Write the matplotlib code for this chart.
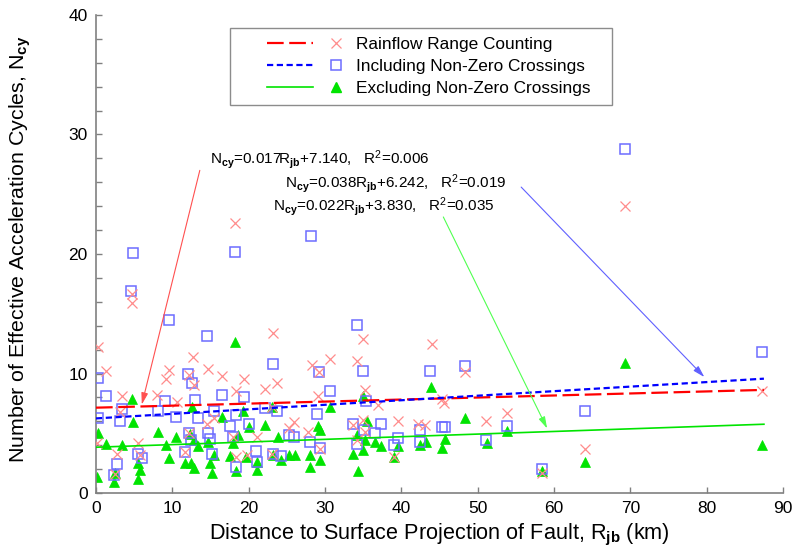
import matplotlib
matplotlib.use('Agg')
import matplotlib.pyplot as plt
from matplotlib.lines import Line2D
from matplotlib.legend_handler import HandlerBase
import numpy as np

plt.rcParams['font.family'] = ['Liberation Sans', 'DejaVu Sans']
plt.rcParams['mathtext.fontset'] = 'custom'
plt.rcParams['mathtext.rm'] = 'Liberation Sans'
plt.rcParams['mathtext.it'] = 'Liberation Sans:italic'
plt.rcParams['mathtext.bf'] = 'Liberation Sans:bold'

# ---------------- data ----------------
rf_x = [0.2, 1.3, 4.7, 4.7, 12.7, 9.6, 9.2, 12.2, 12.8, 3.4, 8.0, 10.6, 3.1, 0.1, 5.5,
        2.7, 5.8, 2.5, 11.6, 14.6, 12.2,
        23.2, 14.7, 16.5, 19.4, 22.2, 23.7, 18.4, 28.3, 29.2, 15.4, 18.0, 21.1, 25.9,
        25.3, 27.8, 18.4, 23.0, 19.8, 23.0,
        35.0, 30.7, 34.2, 29.1, 35.3, 37.0, 33.7, 35.0, 35.3, 39.5, 42.2, 43.1, 29.4,
        39.0, 34.2,
        44.0, 48.3, 45.3, 45.6, 53.9, 51.1,
        18.2, 69.3, 87.2, 64.0, 58.4]
rf_y = [12.2, 10.2, 16.65, 15.9, 11.4, 10.3, 9.5, 9.9, 9.0, 8.1, 8.2, 7.6, 6.8, 4.2, 4.2,
        3.3, 3.2, 1.6, 3.4, 5.75, 5.0,
        13.4, 10.4, 9.8, 9.5, 8.7, 9.2, 8.5, 10.7, 10.1, 6.25, 4.7, 4.7, 5.9,
        5.4, 5.1, 3.0, 3.3, 3.2, 7.2,
        12.9, 11.2, 11.05, 8.1, 8.6, 7.4, 5.7, 6.1, 5.1, 6.0, 5.8, 5.7, 3.7,
        3.0, 4.4,
        12.5, 10.1, 7.9, 7.5, 6.7, 6.0,
        22.6, 24.0, 8.5, 3.65, 1.65]

inc_x = [9.6, 14.6, 0.2, 1.3, 12.1, 12.6, 9.1, 13.0, 3.4, 0.2, 3.1, 8.1, 10.5, 13.3, 12.2,
         12.4, 5.5, 6.0, 2.7, 2.4, 11.6, 14.7,
         23.2, 29.2, 16.5, 19.4, 15.4, 18.4, 22.2, 23.7, 29.0, 17.6, 20.0, 14.9, 18.0,
         25.3, 26.0, 28.0, 15.2, 21.0, 21.1, 23.2, 24.2, 18.4,
         34.2, 35.0, 30.7, 35.4, 43.8, 33.7, 35.1, 37.3, 36.6, 39.5, 39.0, 34.2, 29.4,
         42.4, 42.4,
         48.3, 45.3, 45.7, 53.9, 51.1,
         4.9, 18.2, 28.2, 4.6,
         69.3, 87.2, 64.0, 58.4]
inc_y = [14.5, 13.1, 9.6, 8.1, 9.95, 9.2, 7.7, 7.8, 7.0, 6.3, 6.0, 6.9, 6.4, 6.3, 5.0,
         4.4, 3.3, 2.9, 2.4, 1.5, 3.4, 5.0,
         10.8, 10.1, 8.2, 8.0, 6.9, 6.5, 7.1, 6.9, 6.6, 5.6, 5.8, 4.5, 4.7,
         4.85, 4.7, 4.3, 3.3, 3.5, 2.6, 3.3, 3.1, 2.2,
         14.1, 10.2, 8.5, 7.7, 10.2, 5.8, 5.3, 5.8, 5.05, 4.6, 4.0, 4.1, 3.8,
         5.25, 4.3,
         10.65, 5.5, 5.5, 5.6, 4.4,
         20.1, 20.2, 21.5, 16.9,
         28.8, 11.8, 6.9, 2.0]

exc_x = [4.7, 4.9, 0.2, 8.1, 10.5, 1.3, 3.4, 9.2, 12.3, 12.8, 9.5, 5.5, 5.8, 5.5, 0.1,
         2.5, 2.4, 11.7, 12.5, 12.8, 13.4, 12.6,
         18.2, 16.5, 19.3, 23.0, 22.2, 20.0, 18.0, 18.6, 23.8, 14.7, 15.5, 14.9, 15.2,
         17.6, 19.6, 21.1, 21.1, 18.4, 23.2, 24.3, 25.3, 26.1, 28.1, 28.1, 29.1,
         35.0, 30.7, 29.3, 35.5, 34.2, 35.3, 36.6, 37.3, 33.7, 35.0, 39.6, 39.0, 42.5,
         43.2, 29.4, 34.3, 43.9,
         48.3, 45.7, 45.3, 51.2, 53.9,
         69.3, 87.2, 64.0, 58.4]
exc_y = [7.9, 5.9, 5.0, 5.1, 4.7, 4.1, 4.0, 4.0, 4.9, 4.4, 2.9, 2.5, 1.9, 1.2, 1.3,
         1.7, 0.9, 2.5, 2.5, 2.1, 3.9, 7.2,
         12.6, 6.4, 6.9, 7.2, 5.7, 5.55, 4.2, 4.85, 4.7, 4.3, 3.2, 2.5, 1.65,
         3.1, 3.0, 2.6, 1.9, 1.8, 3.2, 2.8, 3.2, 3.2, 3.2, 2.2, 5.6,
         8.1, 7.2, 5.3, 6.0, 4.85, 4.4, 4.3, 3.9, 3.3, 3.6, 3.9, 3.0, 4.0,
         4.3, 2.8, 1.8, 8.9,
         6.25, 4.5, 3.8, 4.2, 5.2,
         10.85, 4.0, 2.6, 1.8]

labels = ['Rainflow Range Counting', 'Including Non-Zero Crossings',
          'Excluding Non-Zero Crossings']
slopes = [0.017, 0.038, 0.022]
intercepts = [7.140, 6.242, 3.830]
r2 = [0.006, 0.019, 0.035]
fit_range = [0.0, 87.5]

x_ticks = [0, 10, 20, 30, 40, 50, 60, 70, 80, 90]
y_ticks = [0, 10, 20, 30, 40]

# ---------------- figure ----------------
W, H = 793, 550
fig = plt.figure(figsize=(W / 100, H / 100), dpi=100)
ax = fig.add_axes([96 / W, 1 - 493 / H, 687 / W, 478 / H])

ms = 7.5
ax.plot(exc_x, exc_y, ls='none', marker='^', ms=ms, mfc='#00e400', mec='#00e400',
        mew=0.5, zorder=2)
ax.plot(inc_x, inc_y, ls='none', marker='s', ms=ms, mfc='none', mec='#6c6cff',
        mew=1.1, zorder=3)
ax.plot(rf_x, rf_y, ls='none', marker='x', ms=ms, color='#ff8c8c', mew=0.9, zorder=4)

xf = np.array(fit_range)
styles = [dict(color='#ff0000', lw=1.6, dashes=(7.5, 2.5)),
          dict(color='#0000ff', lw=1.6, dashes=(2.8, 1.6)),
          dict(color='#00e400', lw=1.2, ls='-')]
fit_lines = []
for s, b, st in zip(slopes, intercepts, styles):
    ln, = ax.plot(xf, s * xf + b, zorder=5, **st)
    fit_lines.append(ln)

ax.set_xlim(0, 90)
ax.set_ylim(0, 40)
ax.set_xticks(x_ticks)
ax.set_yticks(y_ticks)
ax.set_yticks(np.arange(0, 41, 2), minor=True)
ax.tick_params(axis='both', which='major', direction='in', length=4, width=1,
               color='#808080', labelsize=12.5, pad=6)
ax.tick_params(axis='y', which='minor', direction='in', length=4, width=1,
               color='#808080')
for side in ['top', 'right']:
    ax.spines[side].set_visible(False)
for side in ['left', 'bottom']:
    ax.spines[side].set_color('#808080')
    ax.spines[side].set_linewidth(1.2)

ax.set_xlabel('Distance to Surface Projection of Fault, R$_{\\mathbf{jb}}$ (km)',
              fontsize=15.6)
ax.set_ylabel('Number of Effective Acceleration Cycles, N$_{\\mathbf{cy}}$',
              fontsize=15.4)
ax.xaxis.set_label_coords(0.5, (493 - 522) / 478)
ax.yaxis.set_label_coords((33 - 96) / 687, 0.51)

# ---------------- legend ----------------
class LineThenMarker(HandlerBase):
    def create_artists(self, legend, orig_handle, xdescent, ydescent, width,
                       height, fontsize, trans):
        line, mark = orig_handle
        y = height / 2 - ydescent
        l = Line2D([-xdescent + 0.265 * width, -xdescent + 0.69 * width], [y, y])
        l.update_from(line)
        l.set_marker('None')
        m = Line2D([-xdescent + 0.9 * width], [y])
        m.update_from(mark)
        m.set_linestyle('None')
        l.set_transform(trans)
        m.set_transform(trans)
        return [l, m]

mk_handles = [Line2D([], [], ls='none', marker='x', ms=ms, color='#ff8c8c', mew=0.9),
              Line2D([], [], ls='none', marker='s', ms=ms, mfc='none', mec='#6c6cff', mew=1.1),
              Line2D([], [], ls='none', marker='^', ms=ms, mfc='#00e400', mec='#00e400')]
handles = [(fl, mk) for fl, mk in zip(fit_lines, mk_handles)]
lx0 = (230 - 96) / 687
ly1 = (493 - 28) / 478
lx1 = (612 - 96) / 687
ly0 = (493 - 100) / 478
leg = ax.legend(handles, labels, handler_map={tuple: LineThenMarker()},
                loc='upper left', bbox_to_anchor=(lx0, ly0, lx1 - lx0, ly1 - ly0),
                mode='expand', borderaxespad=0,
                fontsize=12.4, handlelength=6.3, handletextpad=0.5, labelspacing=0.42,
                borderpad=0.5, fancybox=False, frameon=True)
leg.get_frame().set_edgecolor('#707070')
leg.get_frame().set_linewidth(1.0)

# ---------------- annotations ----------------
texts = ['N$_{\\mathbf{cy}}$=%.3fR$_{\\mathbf{jb}}$+%.3f,   R$^2$=%.3f' % (s, b, r)
         for s, b, r in zip(slopes, intercepts, r2)]
text_pos = [(14.9, 27.9), (24.8, 25.9), (23.2, 24.0)]
arrow_from = [(13.6, 27.0), (55.7, 25.6), (45.5, 23.1)]
arrow_to = [(6.0, 7.4), (79.7, 9.7), (59.1, 5.4)]
arrow_cols = ['#ff5050', '#6060ff', '#50ff50']
for t, p in zip(texts, text_pos):
    ax.text(p[0], p[1], t, fontsize=11, ha='left', va='center', zorder=6)
for a0, a1, c in zip(arrow_from, arrow_to, arrow_cols):
    ax.annotate('', xy=a1, xytext=a0,
                arrowprops=dict(arrowstyle='-|>,head_length=0.7,head_width=0.2',
                                color=c, lw=0.8, shrinkA=0, shrinkB=0),
                zorder=6)

fig.savefig('out.png', dpi=100)
